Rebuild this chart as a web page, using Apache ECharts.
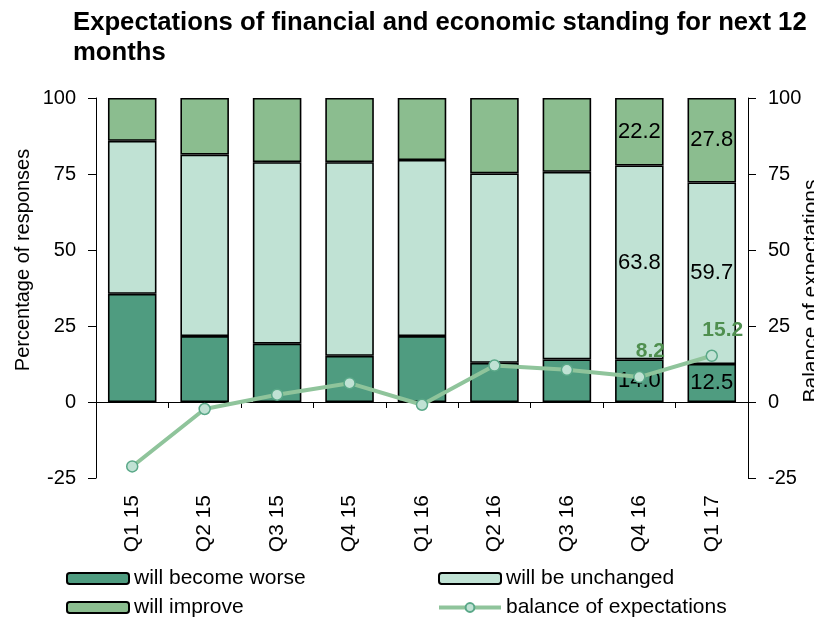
<!DOCTYPE html>
<html>
<head>
<meta charset="utf-8">
<script src="https://cdn.jsdelivr.net/npm/echarts@6/dist/echarts.min.js"></script>
<style>
  html, body { margin: 0; padding: 0; background: #fff; }
  #chart { width: 814px; height: 619px; }
</style>
</head>
<body>
<div id="chart"></div>
<script>
// 数据
const categories = ['Q1 15', 'Q2 15', 'Q3 15', 'Q4 15', 'Q1 16', 'Q2 16', 'Q3 16', 'Q4 16', 'Q1 17']
const worse = [35.6, 21.7, 19.2, 15.2, 21.7, 12.9, 14.0, 14.0, 12.5]
const unchanged = [50.3, 59.7, 59.7, 63.7, 57.9, 62.3, 61.7, 63.8, 59.7]
const improve = [14.1, 18.6, 21.1, 21.1, 20.4, 24.8, 24.3, 22.2, 27.8]
const balance = [-21.2, -2.3, 2.4, 6.2, -0.9, 12.0, 10.6, 8.2, 15.2]
const labelled = ['Q4 16', 'Q1 17'] // 只在最后两期显示数值
const yTicks = { min: -25, max: 100, interval: 25 }

const FONT = 'Liberation Sans, Arial, sans-serif'

const barLabel = {
  show: true,
  position: 'inside',
  color: '#000',
  fontSize: 22,
  fontFamily: FONT,
  formatter: p => (labelled.includes(p.name) ? p.value.toFixed(1) : '')
}

const barSeries = (name, data, color) => ({
  name,
  type: 'bar',
  stack: 'total',
  barWidth: '67%',
  data,
  itemStyle: { color, borderColor: '#000', borderWidth: 1.6 },
  label: barLabel
})

const yAxis = (position, margin) => ({
  type: 'value',
  position,
  ...yTicks,
  splitLine: { show: false },
  axisLine: { show: true, lineStyle: { color: '#000', width: 1 } },
  axisTick: { show: true, length: 8, lineStyle: { color: '#000' } },
  axisLabel: { color: '#000', fontSize: 20, fontFamily: FONT, margin }
})

const legendBase = {
  orient: 'vertical',
  top: 568,
  padding: 0,
  itemWidth: 62,
  itemHeight: 11,
  itemGap: 8,
  lineStyle: { width: 4 },
  textStyle: { fontSize: 21, color: '#000', fontFamily: FONT }
}

const myChart = echarts.init(document.getElementById('chart'))

myChart.setOption({
  animation: false,
  title: {
    text: 'Expectations of financial and economic standing for next 12\nmonths',
    left: 73,
    top: 8,
    padding: 0,
    textStyle: { fontSize: 25.7, fontWeight: 'bold', color: '#000', fontFamily: FONT, lineHeight: 30 }
  },
  grid: { left: 96, right: 66, top: 98, bottom: 141 },
  legend: [
    { ...legendBase, data: ['will become worse', 'will improve'], left: 66 },
    { ...legendBase, data: ['will be unchanged', 'balance of expectations'], left: 437 }
  ],
  xAxis: [
    {
      type: 'category',
      data: categories,
      position: 'bottom',
      axisLine: { show: false, onZero: false },
      axisTick: { show: false },
      axisLabel: { rotate: 90, color: '#000', fontSize: 21, fontFamily: FONT, margin: 17 }
    },
    {
      // 0 轴线
      type: 'category',
      data: categories,
      position: 'bottom',
      axisLine: { show: true, onZero: true, lineStyle: { color: '#000', width: 1 } },
      axisTick: { show: true, length: 6, lineStyle: { color: '#000' } },
      axisLabel: { show: false }
    }
  ],
  yAxis: [yAxis('left', 20), yAxis('right', 20)],
  graphic: [
    {
      type: 'text',
      x: 23,
      y: 260,
      rotation: Math.PI / 2,
      style: { text: 'Percentage of responses', fontSize: 20, fontFamily: FONT, fill: '#000', align: 'center', verticalAlign: 'middle' }
    },
    {
      type: 'text',
      x: 811,
      y: 291,
      rotation: Math.PI / 2,
      style: { text: 'Balance of expectations', fontSize: 21, fontFamily: FONT, fill: '#000', align: 'center', verticalAlign: 'middle' }
    }
  ],
  series: [
    barSeries('will become worse', worse, '#4f9c80'),
    barSeries('will be unchanged', unchanged, '#c0e2d4'),
    barSeries('will improve', improve, '#8bbd8f'),
    {
      name: 'balance of expectations',
      type: 'line',
      yAxisIndex: 1,
      data: balance,
      symbol: 'circle',
      symbolSize: 11,
      lineStyle: { color: '#8fc49b', width: 4 },
      itemStyle: { color: '#c0e2d4', borderColor: '#5aa888', borderWidth: 1.5 },
      label: {
        show: true,
        position: 'top',
        offset: [11, -4],
        color: '#4f8f4f',
        fontSize: 21,
        fontWeight: 'bold',
        fontFamily: FONT,
        formatter: p => (labelled.includes(p.name) ? p.value.toFixed(1) : '')
      },
      z: 5
    }
  ]
})
</script>
</body>
</html>
